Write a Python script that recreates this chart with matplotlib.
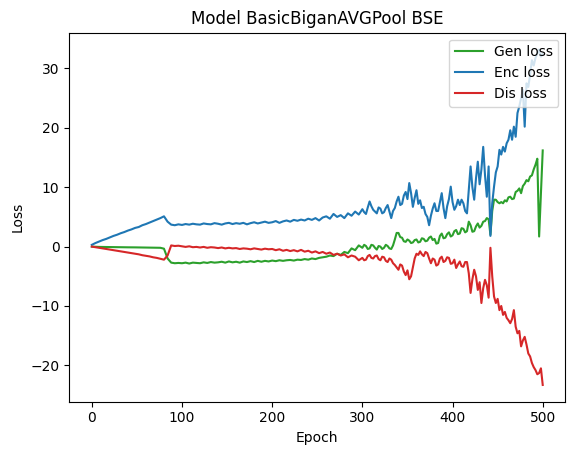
import numpy as np
import matplotlib
matplotlib.use("Agg")
import matplotlib.pyplot as plt

# Epochs: every 4 steps up to 296, then every 2 steps where the curves get noisy
epochs = np.concatenate([np.arange(0, 300, 4), np.arange(300, 501, 2)])

gen_loss = [
    # 0 - 296 (step 4)
    0.0, -0.03, -0.05, -0.06, -0.07, -0.08, -0.09, -0.1, -0.1, -0.11,
    -0.12, -0.12, -0.13, -0.14, -0.15, -0.15, -0.16, -0.17, -0.18, -0.2,
    -0.35, -2.0, -2.7, -2.8, -2.75,
    -2.8, -2.7, -2.85, -2.7, -2.75, -2.8, -2.65, -2.75, -2.6, -2.7,
    -2.65, -2.55, -2.7, -2.5, -2.65, -2.55, -2.7, -2.5, -2.6, -2.45,
    -2.6, -2.4, -2.55, -2.4, -2.5,
    -2.35, -2.45, -2.3, -2.4, -2.3, -2.25, -2.35, -2.2, -2.25, -2.1,
    -2.2, -2.0, -2.1, -1.9, -1.8, -1.7, -1.5, -1.6, -1.2, -1.4,
    -0.9, -1.1, -0.3, -0.6, 0.2,
    # 300 - 500 (step 2)
    -0.2, 0.3, 0.1, -0.4, -0.3, 0.3, 0.2, -0.2, -0.5, 0.1,
    0.0, -0.4, -0.2, 0.3, 0.1, -0.3, -0.4, 0.2, 1.2, 2.3,
    2.3, 1.6, 1.5, 0.9, 0.8, 1.2, 1.0, 0.6, 0.7, 1.1,
    1.2, 0.7, 0.8, 1.4, 1.3, 0.9, 1.0, 1.5, 1.7, 1.1,
    1.3, 0.5, 0.6, 1.8, 2.2, 1.4, 1.5, 2.1, 2.4, 1.7,
    1.9, 2.6, 2.8, 2.1, 2.2, 3.1, 3.0, 2.4, 2.6, 4.2,
    3.6, 2.5, 2.6, 3.4, 3.9, 3.2, 3.5, 4.2, 4.3, 4.8,
    4.6, 2.0, 6.0, 7.9, 7.9, 7.5, 7.3, 7.5, 7.3, 7.8,
    7.6, 8.3, 8.4, 8.0, 8.1, 9.2, 9.4, 9.8, 9.0, 10.2,
    10.6, 11.2, 11.0, 11.8, 12.0, 13.0, 13.8, 14.8, 1.7, 9.0,
    16.2,
]

enc_loss = [
    # 0 - 296 (step 4)
    0.3, 0.6, 0.85, 1.1, 1.3, 1.55, 1.8, 2.0, 2.25, 2.45,
    2.7, 2.9, 3.15, 3.3, 3.6, 3.8, 4.05, 4.3, 4.55, 4.8,
    5.1, 4.2, 3.7, 3.6, 3.75,
    3.65, 3.8, 3.7, 3.85, 3.75, 3.7, 3.9, 3.8, 3.75, 3.95,
    3.85, 3.7, 3.9, 4.0, 3.8, 3.95, 3.85, 4.0, 3.75, 3.95,
    4.1, 3.9, 4.05, 4.2, 4.0,
    4.1, 4.3, 4.0, 4.25, 4.4, 4.2, 4.5, 4.35, 4.55, 4.4,
    4.7, 4.5, 4.8, 4.4, 4.9, 5.1, 4.7, 5.5, 5.0, 5.3,
    4.8, 5.6, 5.2, 5.9, 5.4,
    # 300 - 500 (step 2)
    6.3, 5.8, 5.5, 6.6, 7.6, 6.8, 6.2, 5.9, 5.6, 6.6,
    6.4, 5.6, 5.8, 6.5, 7.0, 5.9, 4.8, 6.0, 6.5, 7.6,
    8.4, 7.0, 7.2, 8.6, 9.2, 8.0, 10.7, 9.0, 6.7, 8.2,
    9.5, 7.2, 7.8, 6.5, 6.7, 5.5, 5.0, 3.6, 5.2, 6.4,
    7.3, 6.0, 6.0, 7.5, 9.0, 6.5, 4.8, 6.8, 8.0, 10.1,
    7.5, 6.2, 6.8, 7.9, 7.0, 7.9, 7.3, 6.0, 5.6, 9.5,
    13.5, 10.0, 7.9, 11.5, 14.3, 10.5, 13.0, 16.8, 12.0, 8.4,
    13.5, 1.8, 7.3, 10.1, 12.5, 13.5, 16.3, 15.5, 16.8, 16.0,
    17.4, 18.0, 19.6, 18.0, 20.2, 18.5, 22.5, 23.6, 25.0, 26.4,
    20.2, 27.5, 26.9, 29.0, 31.4, 30.5, 31.8, 32.5, 33.2, 32.0,
    32.4,
]

dis_loss = [
    # 0 - 296 (step 4)
    0.0, -0.1, -0.2, -0.3, -0.4, -0.5, -0.6, -0.7, -0.8, -0.9,
    -1.0, -1.1, -1.2, -1.3, -1.45, -1.55, -1.65, -1.8, -1.9, -2.05,
    -2.2, -1.5, 0.2, 0.1, 0.15,
    0.05, -0.05, 0.05, -0.1, -0.05, -0.15, -0.05, -0.2, -0.1, -0.15,
    -0.25, -0.15, -0.3, -0.2, -0.3, -0.25, -0.4, -0.3, -0.35, -0.45,
    -0.3, -0.4, -0.5, -0.35, -0.45,
    -0.4, -0.6, -0.45, -0.7, -0.55, -0.75, -0.6, -0.8, -0.55, -0.85,
    -0.7, -1.0, -0.8, -1.1, -0.9, -1.2, -1.0, -1.4, -1.2, -1.5,
    -1.3, -1.8, -1.5, -1.7, -2.3,
    # 300 - 500 (step 2)
    -1.9, -2.3, -2.2, -1.6, -1.4, -1.9, -2.0, -1.6, -1.5, -2.1,
    -2.3, -1.7, -1.8, -2.4, -2.6, -2.0, -2.2, -2.8, -3.1, -3.5,
    -3.9, -3.0, -3.2, -4.2, -4.8, -4.0, -5.5, -5.0, -3.5, -2.0,
    -1.2, -1.4, -0.8, -1.3, -1.6, -0.9, -1.1, -2.0, -2.8, -2.0,
    -2.2, -3.2, -3.0, -2.0, -1.7, -2.6, -2.4, -1.8, -1.9, -2.9,
    -2.8, -2.2, -3.6, -3.0, -2.5, -3.3, -3.4, -2.6, -2.6, -4.5,
    -7.8, -5.5, -3.9, -5.0, -7.3, -6.0, -9.5, -7.0, -5.6, -6.5,
    -8.6, -0.2, -5.0, -8.4, -9.5, -8.8, -10.7, -10.0, -11.5, -11.0,
    -12.0, -12.4, -12.9, -12.2, -10.7, -13.5, -14.6, -14.2, -16.8, -15.8,
    -15.2, -16.5, -18.0, -18.5, -19.6, -20.3, -20.8, -21.5, -21.3, -20.5,
    -23.3,
]

fig = plt.figure(figsize=(5.74, 4.55), dpi=100)
ax = fig.add_axes([0.1207, 0.1171, 0.8641, 0.8110])

ax.plot(epochs, gen_loss, color='tab:green', label='Gen loss')
ax.plot(epochs, enc_loss, color='tab:blue', label='Enc loss')
ax.plot(epochs, dis_loss, color='tab:red', label='Dis loss')

ax.set_title("Model BasicBiganAVGPool BSE")
ax.set_xlabel("Epoch")
ax.set_ylabel("Loss")
ax.legend(loc='upper right')

fig.savefig("out.png", dpi=100)
